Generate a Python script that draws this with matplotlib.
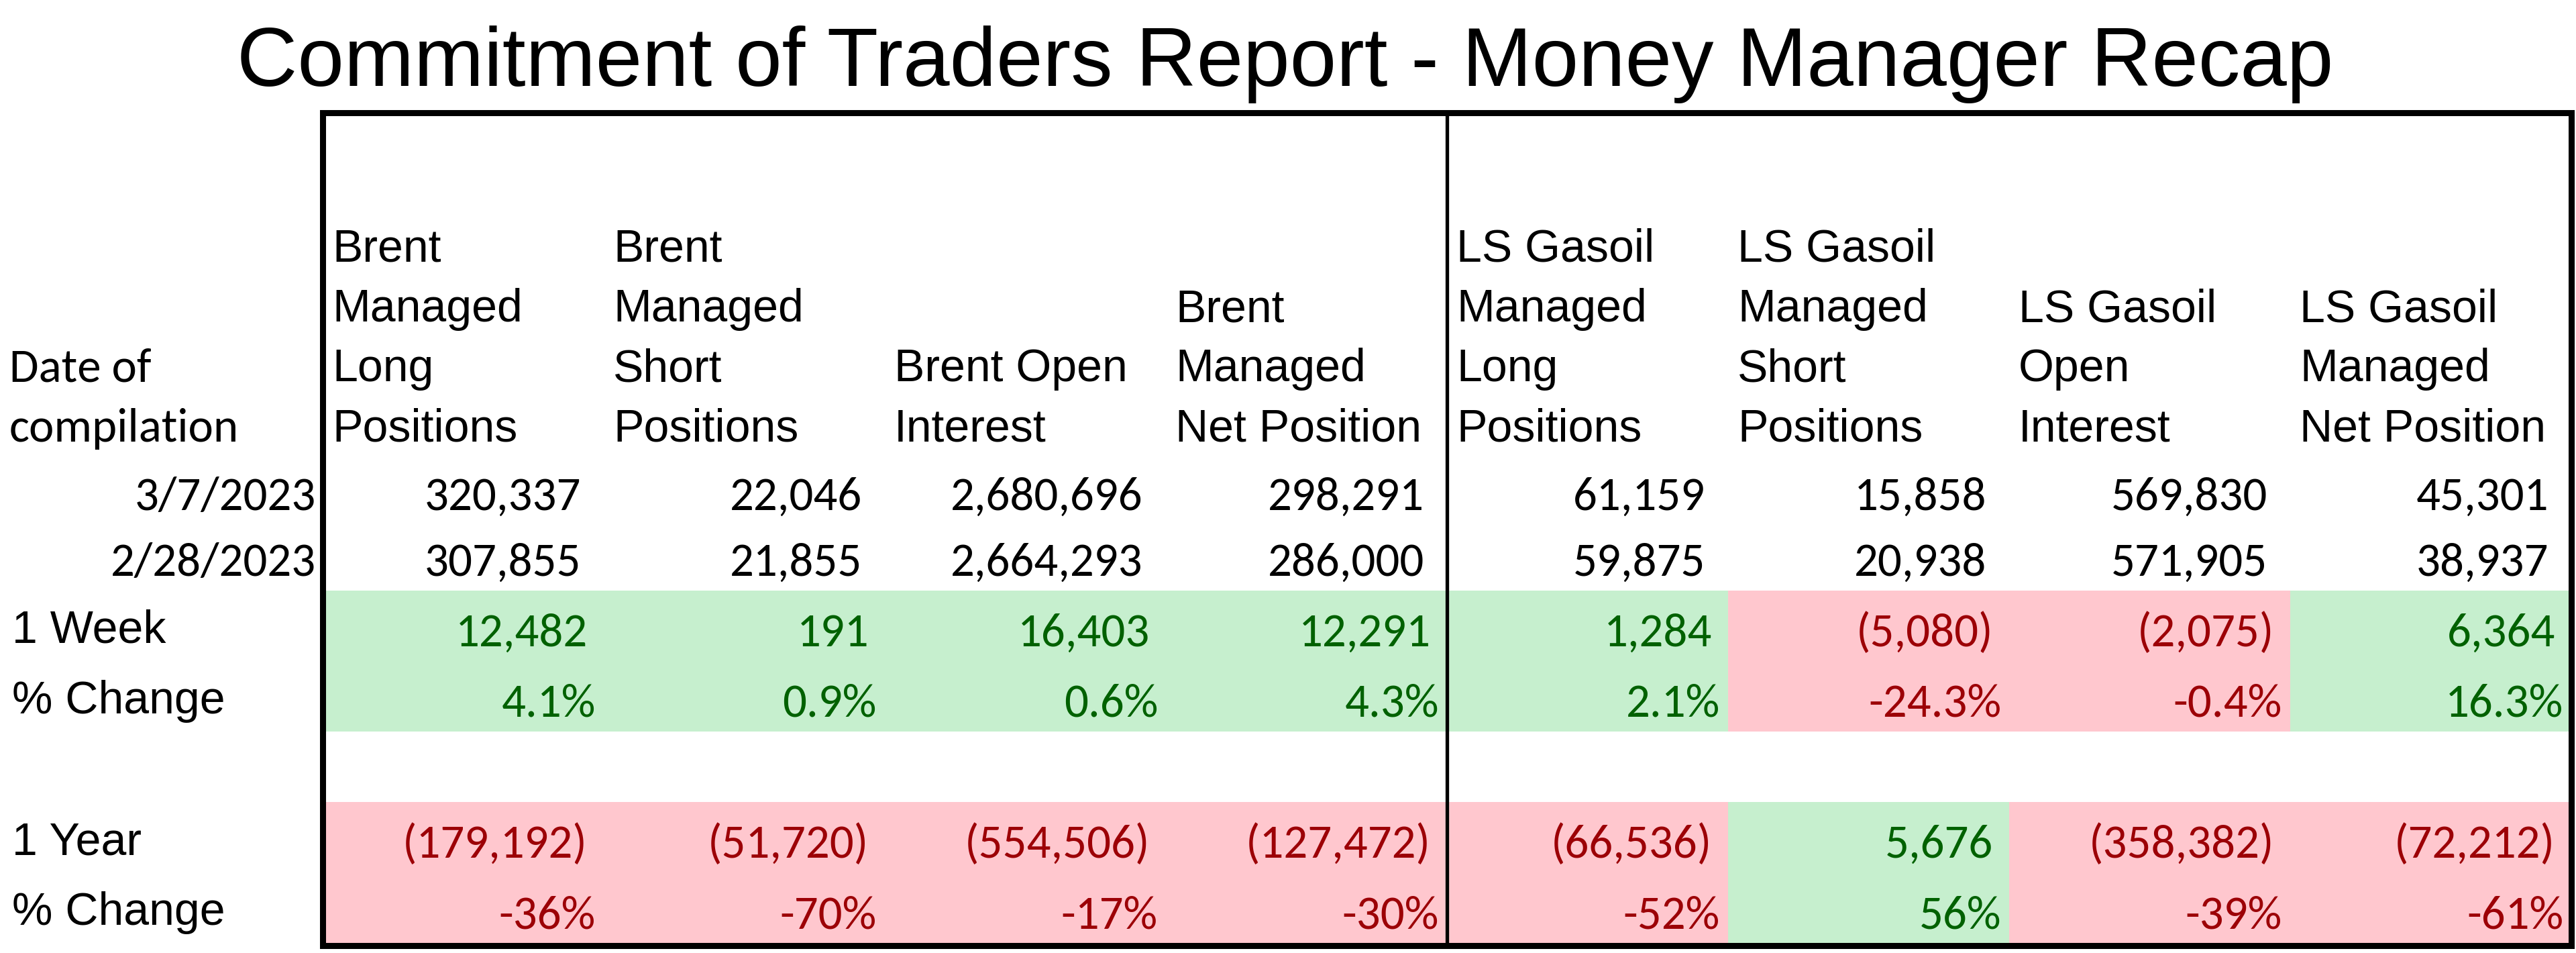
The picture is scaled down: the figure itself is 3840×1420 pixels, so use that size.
import matplotlib.pyplot as plt
from matplotlib.patches import Rectangle
from matplotlib import font_manager

# Table contents
title = "Commitment of Traders Report - Money Manager Recap"
headers = [
    "Brent\nManaged\nLong\nPositions",
    "Brent\nManaged\nShort\nPositions",
    "Brent Open\nInterest",
    "Brent\nManaged\nNet Position",
    "LS Gasoil\nManaged\nLong\nPositions",
    "LS Gasoil\nManaged\nShort\nPositions",
    "LS Gasoil\nOpen\nInterest",
    "LS Gasoil\nManaged\nNet Position",
]
dates = ["3/7/2023", "2/28/2023"]
latest = [320337, 22046, 2680696, 298291, 61159, 15858, 569830, 45301]
prior = [307855, 21855, 2664293, 286000, 59875, 20938, 571905, 38937]
week_chg = [12482, 191, 16403, 12291, 1284, -5080, -2075, 6364]
week_pct = [4.1, 0.9, 0.6, 4.3, 2.1, -24.3, -0.4, 16.3]
year_chg = [-179192, -51720, -554506, -127472, -66536, 5676, -358382, -72212]
year_pct = [-36, -70, -17, -30, -52, 56, -39, -61]

GREEN_FILL, GREEN_TXT = '#C6EFCE', '#006100'
RED_FILL, RED_TXT = '#FFC7CE', '#9C0006'

# Calibri look-alike for the numbers
names = {f.name for f in font_manager.fontManager.ttflist}
num_font = 'Carlito' if 'Carlito' in names else 'Lato'
txt_font = 'Liberation Sans'
NUM_FS = 51


def fmt_num(v):
    return f"{v:,}" if v >= 0 else f"({abs(v):,})"


fig = plt.figure(figsize=(38.4, 14.2), dpi=100)
ax = fig.add_axes([0, 0, 1, 1])
ax.set_xlim(0, 3840)
ax.set_ylim(1420, 0)
ax.axis('off')

# Layout (pixels)
label_w = 481
col_w = 419
col_edges = [label_w + i * col_w for i in range(len(headers) + 1)]
top = 168
# bottoms of: header, date1, date2, week, week%, blank, year, year%
row_bot = [684, 782, 880, 985, 1090, 1195, 1300, 1405]

# Title
ax.text(1916, 128, title, ha='center', va='baseline', fontsize=90,
        family=txt_font)

# Conditional fills
for i in range(len(headers)):
    x0 = col_edges[i]
    c = GREEN_FILL if week_chg[i] >= 0 else RED_FILL
    ax.add_patch(Rectangle((x0, row_bot[2]), col_w, row_bot[4] - row_bot[2],
                           facecolor=c, edgecolor='none', zorder=1))
    c = GREEN_FILL if year_chg[i] >= 0 else RED_FILL
    ax.add_patch(Rectangle((x0, row_bot[5]), col_w, row_bot[7] - row_bot[5],
                           facecolor=c, edgecolor='none', zorder=1))

# Header text, bottom aligned, one line at a time
line_h = 89.5
for i, h in enumerate(headers):
    for k, line in enumerate(reversed(h.split('\n'))):
        ax.text(col_edges[i] + 14, row_bot[0] - 26 - k * line_h, line,
                ha='left', va='baseline', fontsize=49, family=txt_font)

for k, line in enumerate(reversed(["Date of", "compilation"])):
    ax.text(14, row_bot[0] - 26 - k * line_h, line, ha='left',
            va='baseline', fontsize=NUM_FS, family=num_font)

# Row labels
for d, rb in zip(dates, row_bot[1:3]):
    ax.text(label_w - 10, rb - 22, d, ha='right', va='baseline',
            fontsize=NUM_FS, family=num_font)
for lab, rb in zip(["1 Week", "% Change", "1 Year", "% Change"],
                   [row_bot[3], row_bot[4], row_bot[6], row_bot[7]]):
    ax.text(18, rb - 27, lab, ha='left', va='baseline', fontsize=49,
            family=txt_font)

# Values
for i in range(len(headers)):
    xr = col_edges[i + 1]
    ax.text(xr - 34, row_bot[1] - 22, fmt_num(latest[i]), ha='right',
            va='baseline', fontsize=NUM_FS, family=num_font, zorder=3)
    ax.text(xr - 34, row_bot[2] - 22, fmt_num(prior[i]), ha='right',
            va='baseline', fontsize=NUM_FS, family=num_font, zorder=3)

    c = GREEN_TXT if week_chg[i] >= 0 else RED_TXT
    ax.text(xr - 24, row_bot[3] - 22, fmt_num(week_chg[i]), ha='right',
            va='baseline', fontsize=NUM_FS, family=num_font, color=c, zorder=3)
    ax.text(xr - 12, row_bot[4] - 22, f"{week_pct[i]:.1f}%", ha='right',
            va='baseline', fontsize=NUM_FS, family=num_font, color=c, zorder=3)

    c = GREEN_TXT if year_chg[i] >= 0 else RED_TXT
    ax.text(xr - 24, row_bot[6] - 22, fmt_num(year_chg[i]), ha='right',
            va='baseline', fontsize=NUM_FS, family=num_font, color=c, zorder=3)
    ax.text(xr - 12, row_bot[7] - 22, f"{year_pct[i]:.0f}%", ha='right',
            va='baseline', fontsize=NUM_FS, family=num_font, color=c, zorder=3)

# Borders
ax.add_patch(Rectangle((col_edges[0], top), col_edges[-1] - col_edges[0],
                       row_bot[-1] + 4 - top, facecolor='none',
                       edgecolor='black', lw=6.5, zorder=4))
ax.plot([col_edges[4], col_edges[4]], [top, row_bot[-1] + 4], color='black',
        lw=3.8, zorder=4)

fig.savefig('out.png', dpi=100, facecolor='white')
